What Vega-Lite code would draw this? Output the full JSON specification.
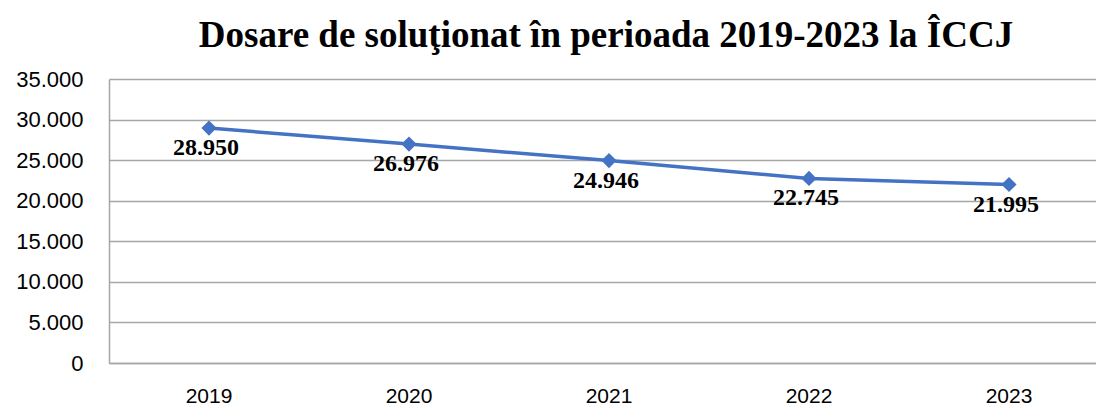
{
  "$schema": "https://vega.github.io/schema/vega-lite/v6.json",
  "autosize": "none",
  "padding": {"left": 109, "top": 79, "right": 0, "bottom": 44},
  "width": 1000,
  "height": 284,
  "background": "white",
  "title": {
    "text": "Dosare de soluţionat în perioada 2019-2023 la ÎCCJ",
    "font": "Liberation Serif",
    "fontSize": 37,
    "fontWeight": "bold",
    "color": "#000000",
    "anchor": "middle",
    "frame": "group",
    "offset": 13,
    "dx": -3
  },
  "data": {
    "values": [
      {"an": "2019", "dosare": 28950, "label": "28.950"},
      {"an": "2020", "dosare": 26976, "label": "26.976"},
      {"an": "2021", "dosare": 24946, "label": "24.946"},
      {"an": "2022", "dosare": 22745, "label": "22.745"},
      {"an": "2023", "dosare": 21995, "label": "21.995"}
    ]
  },
  "encoding": {
    "x": {
      "field": "an", "type": "ordinal", "title": null,
      "scale": {"type": "band", "paddingInner": 0, "paddingOuter": 0},
      "axis": {
        "labelAngle": 0, "labelFont": "Liberation Sans", "labelFontSize": 21,
        "labelColor": "#000000", "ticks": false, "labelPadding": 22, "labelBaseline": "top",
        "domainColor": "#a6a6a6", "domainWidth": 1.5, "grid": false
      }
    },
    "y": {
      "field": "dosare", "type": "quantitative", "title": null,
      "scale": {"domain": [0, 35000]},
      "axis": {
        "values": [0, 5000, 10000, 15000, 20000, 25000, 30000, 35000],
        "labelExpr": "replace(format(datum.value, ','), ',', '.')",
        "labelFont": "Liberation Sans", "labelFontSize": 22, "labelColor": "#000000",
        "ticks": false, "labelPadding": 26,
        "domainColor": "#a6a6a6", "domainWidth": 1.5,
        "grid": true, "gridColor": "#a6a6a6", "gridWidth": 1.5
      }
    }
  },
  "layer": [
    {"mark": {"type": "line", "color": "#4472C4", "strokeWidth": 3.5}},
    {"mark": {"type": "point", "shape": "diamond", "filled": true, "color": "#4472C4", "size": 230, "opacity": 1}},
    {
      "mark": {"type": "text", "font": "Liberation Serif", "fontSize": 24, "fontWeight": "bold", "color": "#000000", "baseline": "alphabetic", "dy": 27, "dx": -3},
      "encoding": {"text": {"field": "label"}}
    }
  ],
  "config": {"view": {"stroke": null}}
}
